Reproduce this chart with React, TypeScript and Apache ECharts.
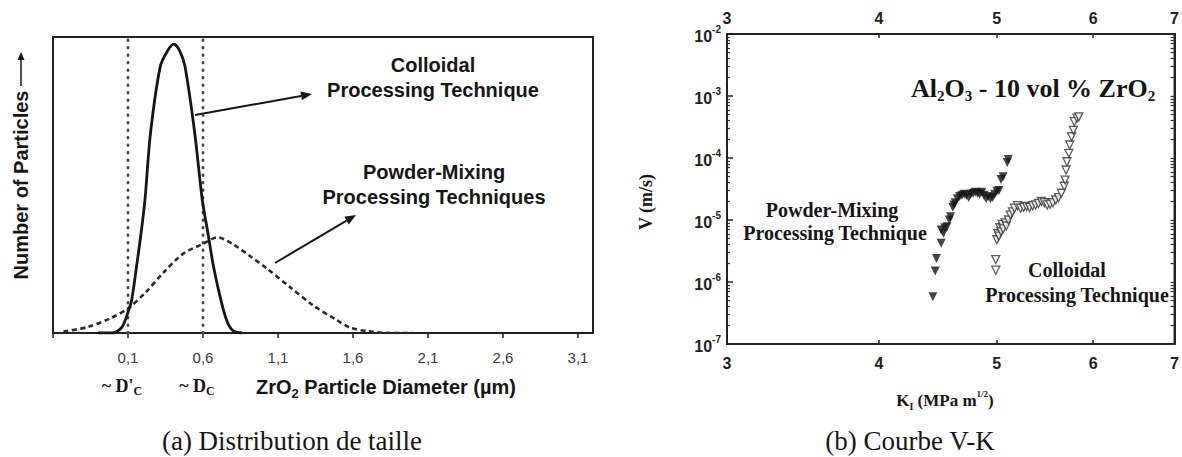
import React, { useEffect, useRef } from "react";
import * as echarts from "echarts";

// ---------- (a) size distribution ----------
const diameterTicks = [0.1, 0.6, 1.1, 1.6, 2.1, 2.6, 3.1];
const diameterAxisTicks = [-0.4, 0.1, 0.6, 1.1, 1.6, 2.1, 2.6, 3.1];
const criticalDiameters = [0.1, 0.6];

const colloidalDiameter = [-0.1, 0.0, 0.06, 0.1, 0.124, 0.157, 0.187, 0.213, 0.25, 0.315, 0.366, 0.405, 0.443, 0.48, 0.545, 0.595, 0.633, 0.67, 0.72, 0.76, 0.8, 0.86];
const colloidalCount = [0, 0, 0.02, 0.07, 0.11, 0.225, 0.337, 0.45, 0.675, 0.9, 0.955, 0.976, 0.955, 0.9, 0.675, 0.45, 0.337, 0.225, 0.11, 0.04, 0.008, 0];

const mixingDiameter = [-0.33, -0.17, -0.016, 0.1, 0.213, 0.34, 0.468, 0.595, 0.697, 0.8, 0.927, 1.03, 1.18, 1.335, 1.487, 1.58, 1.7, 1.85, 2.0];
const mixingCount = [0.005, 0.02, 0.05, 0.083, 0.135, 0.206, 0.268, 0.3, 0.323, 0.3, 0.255, 0.216, 0.155, 0.093, 0.045, 0.018, 0.006, 0, 0];

// ---------- (b) V-K curve ----------
const kTicks = [3, 4, 5, 6, 7];
const kInnerTicks = [4, 5, 6];
const vDecades = [1e-7, 1e-6, 1e-5, 1e-4, 1e-3, 1e-2];
const vMinorMultipliers = [2, 3, 4, 5, 6, 7, 8, 9];

const mixingK = [4.43, 4.45, 4.46, 4.5, 4.52, 4.5, 4.53, 4.55, 4.57, 4.58, 4.6, 4.61, 4.62, 4.64, 4.66, 4.68, 4.7, 4.72, 4.74, 4.76, 4.78, 4.8, 4.82, 4.84, 4.86, 4.88, 4.9, 4.92, 4.94, 4.96, 4.98, 5.0, 5.02, 5.04, 5.06, 5.1, 5.11];
const mixingV = [5.8e-7, 1.5e-6, 2.4e-6, 4.2e-6, 6.1e-6, 6.9e-6, 7.5e-6, 7.8e-6, 1.0e-5, 1.13e-5, 1.6e-5, 1.75e-5, 1.9e-5, 2.2e-5, 2.4e-5, 2.5e-5, 2.6e-5, 2.5e-5, 2.3e-5, 2.6e-5, 2.7e-5, 2.8e-5, 2.7e-5, 2.6e-5, 2.8e-5, 2.5e-5, 2.2e-5, 2.4e-5, 2.2e-5, 2.3e-5, 2.6e-5, 2.9e-5, 3.0e-5, 4.5e-5, 5.0e-5, 8.5e-5, 9.5e-5];

const colloidalK = [4.99, 4.99, 5.0, 5.01, 5.02, 5.03, 5.04, 5.05, 5.06, 5.08, 5.09, 5.11, 5.13, 5.15, 5.17, 5.2, 5.23, 5.26, 5.29, 5.32, 5.35, 5.38, 5.41, 5.44, 5.47, 5.5, 5.53, 5.56, 5.59, 5.62, 5.65, 5.68, 5.69, 5.7, 5.71, 5.73, 5.74, 5.76, 5.78, 5.79, 5.82, 5.84];
const colloidalV = [1.55e-6, 2.3e-6, 4.8e-6, 6.0e-6, 5.5e-6, 7.5e-6, 6.5e-6, 8.5e-6, 7.2e-6, 9.0e-6, 8.0e-6, 1.0e-5, 1.2e-5, 1.35e-5, 1.55e-5, 1.7e-5, 1.55e-5, 1.6e-5, 1.65e-5, 1.6e-5, 1.7e-5, 1.75e-5, 1.85e-5, 2.0e-5, 1.9e-5, 1.75e-5, 1.8e-5, 1.9e-5, 2.1e-5, 2.3e-5, 2.7e-5, 3.5e-5, 4.4e-5, 6.4e-5, 8.7e-5, 1.19e-4, 1.62e-4, 2.2e-4, 2.8e-4, 3.85e-4, 4.4e-4, 4.6e-4];

const sans = "'Liberation Sans', Arial, sans-serif";
const serif = "'Liberation Serif', 'Times New Roman', serif";
const ink = "#151515";

const zip = (a: number[], b: number[]) => a.map((v, i) => [v, b[i]]);
const vMinorTicks = vDecades
  .slice(0, -1)
  .flatMap((d) => vMinorMultipliers.map((m) => Number((m * d).toPrecision(3))));

function arrow(x1: number, y1: number, x2: number, y2: number, head = 11, half = 4.5, width = 2) {
  const dx = x2 - x1;
  const dy = y2 - y1;
  const L = Math.hypot(dx, dy);
  const ux = dx / L;
  const uy = dy / L;
  const bx = x2 - ux * head;
  const by = y2 - uy * head;
  return [
    { type: "line", shape: { x1, y1, x2: bx, y2: by }, style: { stroke: ink, lineWidth: width } },
    {
      type: "polygon",
      shape: { points: [[x2, y2], [bx - uy * half, by + ux * half], [bx + uy * half, by - ux * half]] },
      style: { fill: ink },
    },
  ];
}

function txt(x: number, y: number, text: string, style: any, extra: any = {}) {
  return {
    type: "text",
    x,
    y,
    ...extra,
    style: { text, fill: ink, align: "center", verticalAlign: "middle", ...style },
  };
}

const sansBold = (size: number) => ({ fontFamily: sans, fontWeight: "bold", fontSize: size });
const serifBold = (size: number) => ({ fontFamily: serif, fontWeight: "bold", fontSize: size });

export default function App() {
  const ref = useRef<HTMLDivElement>(null);

  useEffect(() => {
    if (!ref.current) return;
    const chart = echarts.init(ref.current, null, { renderer: "svg" });

    const logAxisCommon = {
      type: "log",
      logBase: 10,
      gridIndex: 1,
      splitLine: { show: false },
      axisLine: { show: true, onZero: false, lineStyle: { color: "#222", width: 2 } },
    };

    const option: any = {
      animation: false,
      backgroundColor: "#fff",
      grid: [
        { left: 53, top: 37, width: 540, height: 296, show: true, borderColor: "#222", borderWidth: 2 },
        { left: 727, top: 34, width: 451, height: 310, show: true, borderColor: "#222", borderWidth: 2 },
      ],
      xAxis: [
        {
          type: "value",
          gridIndex: 0,
          min: -0.4,
          max: 3.2,
          splitLine: { show: false },
          axisLine: { show: true, onZero: false, lineStyle: { color: "#222", width: 2 } },
          axisTick: { show: true, customValues: diameterAxisTicks, length: 5, lineStyle: { color: "#222", width: 1.5 } },
          axisLabel: {
            customValues: diameterTicks,
            formatter: (v: number) => v.toFixed(1).replace(".", ","),
            fontFamily: sans,
            fontSize: 15,
            color: "#3a3a3a",
            margin: 17,
          },
        },
        {
          ...logAxisCommon,
          min: 3,
          max: 7,
          position: "bottom",
          axisTick: { show: true, customValues: kInnerTicks, inside: true, length: 4, lineStyle: { color: "#222", width: 1.5 } },
          axisLabel: {
            customValues: kTicks,
            formatter: (v: number) => String(Math.round(v)),
            ...sansBold(16),
            color: "#222",
            margin: 11,
          },
        },
        {
          ...logAxisCommon,
          min: 3,
          max: 7,
          position: "top",
          axisTick: { show: true, customValues: kInnerTicks, inside: true, length: 4, lineStyle: { color: "#222", width: 1.5 } },
          axisLabel: {
            customValues: kTicks,
            formatter: (v: number) => String(Math.round(v)),
            ...sansBold(16),
            color: "#222",
            margin: 8,
          },
        },
      ],
      yAxis: [
        {
          type: "value",
          gridIndex: 0,
          min: 0,
          max: 1,
          splitLine: { show: false },
          axisLine: { show: true, onZero: false, lineStyle: { color: "#222", width: 2 } },
          axisTick: { show: false },
          axisLabel: { show: false },
        },
        {
          ...logAxisCommon,
          min: 1e-7,
          max: 1e-2,
          position: "left",
          axisTick: { show: true, customValues: vDecades, inside: true, length: 6, lineStyle: { color: "#222", width: 1.5 } },
          axisLabel: {
            customValues: vDecades,
            margin: 6,
            formatter: (v: number) => `{b|10}{s|${Math.round(Math.log10(v))}}`,
            rich: {
              b: { ...sansBold(16), color: "#222", lineHeight: 20, verticalAlign: "bottom" },
              s: { ...sansBold(10), color: "#222", lineHeight: 11, verticalAlign: "top" },
            },
          },
        },
        {
          ...logAxisCommon,
          min: 1e-7,
          max: 1e-2,
          position: "left",
          axisLine: { show: false },
          axisTick: { show: true, customValues: vMinorTicks, inside: true, length: 3, lineStyle: { color: "#333", width: 1.2 } },
          axisLabel: { show: false },
        },
        {
          ...logAxisCommon,
          min: 1e-7,
          max: 1e-2,
          position: "right",
          axisTick: { show: true, customValues: [...vDecades, ...vMinorTicks], inside: true, length: 4, lineStyle: { color: "#333", width: 1.2 } },
          axisLabel: { show: false },
        },
      ],
      series: [
        {
          name: "Colloidal Processing Technique",
          type: "line",
          xAxisIndex: 0,
          yAxisIndex: 0,
          data: zip(colloidalDiameter, colloidalCount),
          showSymbol: false,
          smooth: 0.3,
          lineStyle: { color: ink, width: 2.8 },
          z: 4,
        },
        {
          name: "Powder-Mixing Processing Techniques",
          type: "line",
          xAxisIndex: 0,
          yAxisIndex: 0,
          data: zip(mixingDiameter, mixingCount),
          showSymbol: false,
          smooth: 0.3,
          lineStyle: { color: "#2a2a2a", width: 2.6, type: [5, 3.5] },
          z: 3,
        },
        ...criticalDiameters.map((d) => ({
          type: "line",
          xAxisIndex: 0,
          yAxisIndex: 0,
          data: [[d, 0], [d, 0.99]],
          showSymbol: false,
          lineStyle: { color: "#444", width: 2.8, type: [0.5, 7], cap: "round" },
          z: 2,
        })),
        {
          name: "Powder-Mixing Processing Technique",
          type: "scatter",
          xAxisIndex: 1,
          yAxisIndex: 1,
          data: zip(mixingK, mixingV),
          symbol: "triangle",
          symbolRotate: 180,
          symbolSize: 9,
          itemStyle: { color: ink },
        },
        {
          name: "Colloidal Processing Technique",
          type: "scatter",
          xAxisIndex: 1,
          yAxisIndex: 1,
          data: zip(colloidalK, colloidalV),
          symbol: "triangle",
          symbolRotate: 180,
          symbolSize: 8,
          itemStyle: { color: "#fff", borderColor: "#333", borderWidth: 1.3 },
        },
      ],
      graphic: {
        elements: [
          // ---- (a) annotations ----
          txt(433, 65, "Colloidal", sansBold(20)),
          txt(433, 90, "Processing Technique", sansBold(20)),
          txt(434, 172, "Powder-Mixing", sansBold(20)),
          txt(434, 197, "Processing Techniques", sansBold(20)),
          ...arrow(195, 115, 312, 94),
          ...arrow(275, 263, 356, 215),
          txt(21, 185, "Number of Particles", sansBold(20), { rotation: Math.PI / 2 }),
          ...arrow(21, 86, 21, 52, 8, 3.5, 1.5),
          txt(122, 386, "{n|~ D'}{s|C}", {
            rich: {
              n: { ...serifBold(18), lineHeight: 22 },
              s: { ...serifBold(12), lineHeight: 12, verticalAlign: "bottom" },
            },
          }),
          txt(197, 386, "{n|~ D}{s|C}", {
            rich: {
              n: { ...serifBold(18), lineHeight: 22 },
              s: { ...serifBold(12), lineHeight: 12, verticalAlign: "bottom" },
            },
          }),
          txt(386, 387, "{n|ZrO}{s|2}{n| Particle Diameter (µm)}", {
            rich: {
              n: { ...sansBold(20), lineHeight: 26 },
              s: { ...sansBold(13), lineHeight: 13, verticalAlign: "bottom" },
            },
          }),
          txt(292, 441, "(a) Distribution de taille", { fontFamily: serif, fontSize: 27 }),
          // ---- (b) annotations ----
          txt(911, 88, "{n|Al}{s|2}{n|O}{s|3}{n| - 10 vol % ZrO}{s|2}", {
            align: "left",
            rich: {
              n: { ...serifBold(26), lineHeight: 30 },
              s: { ...serifBold(15), lineHeight: 15, verticalAlign: "bottom" },
            },
          }),
          txt(832, 210, "Powder-Mixing", serifBold(20)),
          txt(835, 233, "Processing Technique", serifBold(20)),
          txt(1067, 270, "Colloidal", serifBold(20)),
          txt(1077, 295, "Processing Technique", serifBold(20)),
          txt(646, 202, "V (m/s)", serifBold(18), { rotation: Math.PI / 2 }),
          txt(945, 400, "{n|K}{sub|I}{n| (MPa m}{sup|1/2}{n|)}", {
            rich: {
              n: { ...serifBold(17), lineHeight: 22 },
              sub: { ...serifBold(10), lineHeight: 10, verticalAlign: "bottom" },
              sup: { ...serifBold(9), lineHeight: 10, verticalAlign: "top" },
            },
          }),
          txt(910, 441, "(b) Courbe V-K", { fontFamily: serif, fontSize: 27 }),
        ],
      },
    };

    chart.setOption(option);
    return () => chart.dispose();
  }, []);

  return (
    <div
      ref={ref}
      style={{ position: "absolute", left: 0, top: 0, width: 1182, height: 457, background: "#fff" }}
    />
  );
}
